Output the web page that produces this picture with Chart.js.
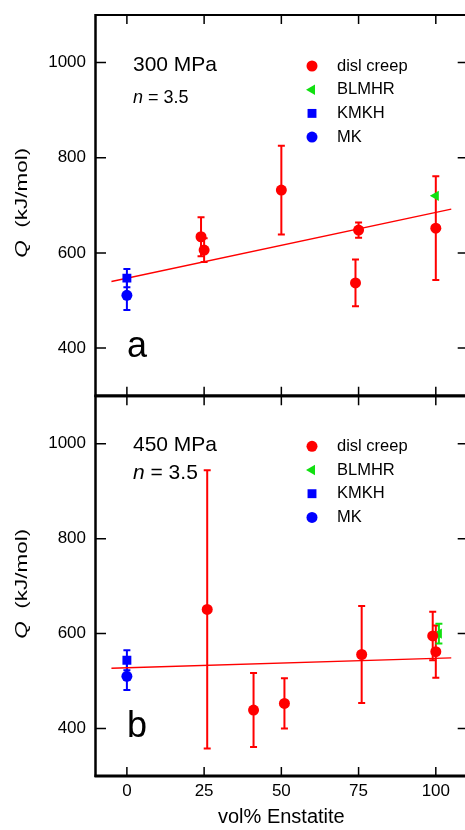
<!DOCTYPE html>
<html>
<head>
<meta charset="utf-8">
<script src="https://cdn.jsdelivr.net/npm/chart.js@4.4.1/dist/chart.umd.min.js"></script>
<style>
  html, body { margin: 0; padding: 0; overflow: hidden; background: #fff; width: 465px; height: 830px; }
  #wrapA { position: absolute; left: 0; top: 0; width: 480px; height: 405px; }
  #wrapB { position: absolute; left: 0; top: 390px; width: 480px; height: 440px; }
</style>
</head>
<body>
<div id="wrapA"><canvas id="chartA" width="467" height="405"></canvas></div>
<div id="wrapB"><canvas id="chartB" width="467" height="440"></canvas></div>
<script>
// ===== DATA =====
const xTicks = [0, 25, 50, 75, 100];
const yTicks = [400, 600, 800, 1000];

// panel a: 300 MPa
const dislX_a = [24, 25, 50, 74, 75, 100];
const dislQ_a = [634, 606, 732, 537, 648, 652];
const dislErr_a = [41, 25, 93, 49, 16, 109];
const blmhrX_a = [100];
const blmhrQ_a = [720];
const blmhrErr_a = [0];
const kmkhX_a = [0];
const kmkhQ_a = [547];
const kmkhErr_a = [19];
const mkX_a = [0];
const mkQ_a = [511];
const mkErr_a = [31];
const fitX_a = [-5, 105];
const fitQ_a = [540, 692];

// panel b: 450 MPa
const dislX_b = [26, 41, 51, 76, 99, 100];
const dislQ_b = [651, 439, 453, 556, 595, 562];
const dislErr_b = [293, 78, 53, 102, 51, 55];
const blmhrX_b = [101];
const blmhrQ_b = [600];
const blmhrErr_b = [21];
const kmkhX_b = [0];
const kmkhQ_b = [544];
const kmkhErr_b = [21];
const mkX_b = [0];
const mkQ_b = [510];
const mkErr_b = [29];
const fitX_b = [-5, 105];
const fitQ_b = [527, 549];

const FONT = "'Liberation Sans', Arial, Helvetica, sans-serif";
Chart.defaults.font.family = FONT;
Chart.defaults.color = '#000';

const RED = '#ff0000';
const GREEN = '#11e011';
const BLUE = '#0000ff';

const pts = (xs, ys) => xs.map((x, i) => ({ x: x, y: ys[i] }));

// ===== PLUGINS =====
const errorBars = {
  id: 'errorBars',
  beforeDatasetsDraw(chart) {
    const ctx = chart.ctx;
    const yScale = chart.scales.y;
    chart.data.datasets.forEach((ds, i) => {
      if (!ds.errors) return;
      const meta = chart.getDatasetMeta(i);
      ctx.save();
      ctx.strokeStyle = ds.borderColor;
      ctx.lineWidth = 2;
      meta.data.forEach((pt, j) => {
        const e = ds.errors[j];
        if (!e) return;
        const v = ds.data[j].y;
        const top = yScale.getPixelForValue(v + e);
        const bot = yScale.getPixelForValue(v - e);
        ctx.beginPath();
        ctx.moveTo(pt.x, top); ctx.lineTo(pt.x, bot);
        ctx.moveTo(pt.x - 3.5, top); ctx.lineTo(pt.x + 3.5, top);
        ctx.moveTo(pt.x - 3.5, bot); ctx.lineTo(pt.x + 3.5, bot);
        ctx.stroke();
      });
      ctx.restore();
    });
  }
};

const frame = {
  id: 'frame',
  afterDraw(chart) {
    const { ctx, chartArea: a, scales: { x, y } } = chart;
    ctx.save();
    ctx.strokeStyle = '#000';
    ctx.lineWidth = 1.5;
    ctx.beginPath();
    xTicks.forEach(v => {
      const px = x.getPixelForValue(v);
      ctx.moveTo(px, a.top); ctx.lineTo(px, a.top + 9);
      ctx.moveTo(px, a.bottom); ctx.lineTo(px, a.bottom - 9);
    });
    yTicks.forEach(v => {
      const py = y.getPixelForValue(v);
      ctx.moveTo(a.left, py); ctx.lineTo(a.left + 10, py);
      ctx.moveTo(a.right, py); ctx.lineTo(a.right - 9, py);
    });
    ctx.stroke();

    ctx.lineWidth = 2.5;
    ctx.beginPath();
    ctx.moveTo(a.left - 0.5, a.top - 1); ctx.lineTo(a.left - 0.5, a.bottom + 1);
    ctx.stroke();
    ctx.lineWidth = 2;
    ctx.beginPath();
    ctx.moveTo(a.left - 1, a.top); ctx.lineTo(a.right, a.top);
    ctx.stroke();
    ctx.lineWidth = 3;
    ctx.beginPath();
    ctx.moveTo(a.left - 1.5, a.bottom); ctx.lineTo(a.right, a.bottom);
    ctx.stroke();
    ctx.restore();
  }
};

const panelText = {
  id: 'panelText',
  afterDraw(chart, args, o) {
    const { ctx, chartArea: a } = chart;
    ctx.save();
    ctx.fillStyle = '#000';

    // pressure label
    ctx.textBaseline = 'middle';
    ctx.textAlign = 'left';
    ctx.font = '21px ' + FONT;
    ctx.fillText(o.pressure, a.left + 37, a.top + o.pressureY);

    // n = 3.5
    ctx.font = 'italic ' + o.nSize + 'px ' + FONT;
    ctx.fillText('n', a.left + 37, a.top + o.nY);
    const w = ctx.measureText('n').width;
    ctx.font = o.nSize + 'px ' + FONT;
    ctx.fillText(' = 3.5', a.left + 37 + w, a.top + o.nY);

    // panel letter
    ctx.textBaseline = 'alphabetic';
    ctx.font = '36px ' + FONT;
    ctx.fillText(o.letter, a.left + 31, a.bottom - 39);

    // legend
    ctx.font = '16.5px ' + FONT;
    ctx.textBaseline = 'middle';
    chart.data.datasets.filter(d => d.label).forEach((ds, i) => {
      const yy = a.top + o.legendY + 23.7 * i;
      ctx.fillStyle = ds.backgroundColor;
      Chart.helpers.drawPoint(ctx, {
        pointStyle: ds.pointStyle, radius: ds.pointRadius,
        rotation: ds.pointRotation || 0, borderWidth: 0
      }, 312, yy);
      ctx.fillStyle = '#000';
      ctx.fillText(ds.label, 337, yy);
    });

    // y axis title, Q in italics
    const cy = (a.top + a.bottom) / 2 - 2.5;
    ctx.translate(27, cy);
    ctx.rotate(-Math.PI / 2);
    ctx.font = 'italic 16px ' + FONT;
    const wq = ctx.measureText('Q').width;
    ctx.font = '16px ' + FONT;
    const wr = ctx.measureText('  (kJ/mol)').width;
    const k = 110 / (wq + wr);
    ctx.scale(k, 1);
    ctx.textBaseline = 'alphabetic';
    const x0 = -(wq + wr) / 2;
    ctx.font = 'italic 16px ' + FONT;
    ctx.fillText('Q', x0, 0);
    ctx.font = '16px ' + FONT;
    ctx.fillText('  (kJ/mol)', x0 + wq, 0);
    ctx.restore();
  }
};

// ===== CHART BUILDER =====
function makeChart(id, d, opts) {
  const ctx = document.getElementById(id).getContext('2d');
  return new Chart(ctx, {
    type: 'scatter',
    data: {
      datasets: [
        { label: 'disl creep', data: pts(d.dislX, d.dislQ), errors: d.dislErr,
          backgroundColor: RED, borderColor: RED, pointStyle: 'circle', pointRadius: 5.5, borderWidth: 0 },
        { label: 'BLMHR', data: pts(d.blmhrX, d.blmhrQ), errors: d.blmhrErr,
          backgroundColor: GREEN, borderColor: GREEN, pointStyle: 'triangle', pointRotation: -90, pointRadius: 6, borderWidth: 0 },
        { label: 'KMKH', data: pts(d.kmkhX, d.kmkhQ), errors: d.kmkhErr,
          backgroundColor: BLUE, borderColor: BLUE, pointStyle: 'rect', pointRadius: 6.3, borderWidth: 0 },
        { label: 'MK', data: pts(d.mkX, d.mkQ), errors: d.mkErr,
          backgroundColor: BLUE, borderColor: BLUE, pointStyle: 'circle', pointRadius: 5.5, borderWidth: 0 },
        { data: pts(d.fitX, d.fitQ), showLine: true, borderColor: RED, borderWidth: 1.3,
          pointRadius: 0, fill: false }
      ]
    },
    options: {
      responsive: false,
      maintainAspectRatio: false,
      animation: false,
      layout: { padding: opts.padding },
      plugins: {
        legend: { display: false },
        tooltip: { enabled: false },
        panelText: opts.text
      },
      scales: {
        x: {
          type: 'linear', min: -10, max: 110,
          display: opts.showX,
          afterBuildTicks: s => { s.ticks = xTicks.map(v => ({ value: v })); },
          afterFit: s => {
            if (s.options.display) s.height = 54;
            s.paddingLeft = 0; s.paddingRight = 0;
          },
          grid: { display: false, drawTicks: false },
          border: { display: false },
          ticks: { padding: 5, font: { size: 17 }, color: '#000', maxRotation: 0, autoSkip: false,
                   callback: v => String(v) },
          title: { display: true, text: 'vol% Enstatite', font: { size: 20 }, color: '#000', padding: { top: 0, bottom: 1 } }
        },
        y: {
          min: 300, max: 1100,
          afterBuildTicks: s => { s.ticks = yTicks.map(v => ({ value: v })); },
          afterFit: s => { s.width = 96; s.paddingTop = 0; s.paddingBottom = 0; },
          grid: { display: false, drawTicks: false },
          border: { display: false },
          ticks: { padding: 10, font: { size: 17 }, color: '#000', callback: v => String(v) }
        }
      }
    },
    plugins: [errorBars, frame, panelText]
  });
}

// resize a chart so its plot area ends at the wanted right / bottom edge
function fitArea(chart, right, bottom) {
  const a = chart.chartArea;
  const w = Math.round(chart.width + right - a.right);
  const h = Math.round(chart.height + bottom - a.bottom);
  if (w !== chart.width || h !== chart.height) chart.resize(w, h);
}

const chartA = makeChart('chartA', {
  dislX: dislX_a, dislQ: dislQ_a, dislErr: dislErr_a,
  blmhrX: blmhrX_a, blmhrQ: blmhrQ_a, blmhrErr: blmhrErr_a,
  kmkhX: kmkhX_a, kmkhQ: kmkhQ_a, kmkhErr: kmkhErr_a,
  mkX: mkX_a, mkQ: mkQ_a, mkErr: mkErr_a,
  fitX: fitX_a, fitQ: fitQ_a
}, {
  padding: { top: 15, bottom: 0, left: 0, right: 0 },
  showX: false,
  text: { pressure: '300 MPa', pressureY: 50, nSize: 18, nY: 83, letter: 'a', legendY: 51 }
});
fitArea(chartA, 467, 396);

const chartB = makeChart('chartB', {
  dislX: dislX_b, dislQ: dislQ_b, dislErr: dislErr_b,
  blmhrX: blmhrX_b, blmhrQ: blmhrQ_b, blmhrErr: blmhrErr_b,
  kmkhX: kmkhX_b, kmkhQ: kmkhQ_b, kmkhErr: kmkhErr_b,
  mkX: mkX_b, mkQ: mkQ_b, mkErr: mkErr_b,
  fitX: fitX_b, fitQ: fitQ_b
}, {
  padding: { top: 6, bottom: 0, left: 0, right: 0 },
  showX: true,
  text: { pressure: '450 MPa', pressureY: 49, nSize: 21, nY: 77, letter: 'b', legendY: 50 }
});
fitArea(chartB, 467, 386);
</script>
</body>
</html>
